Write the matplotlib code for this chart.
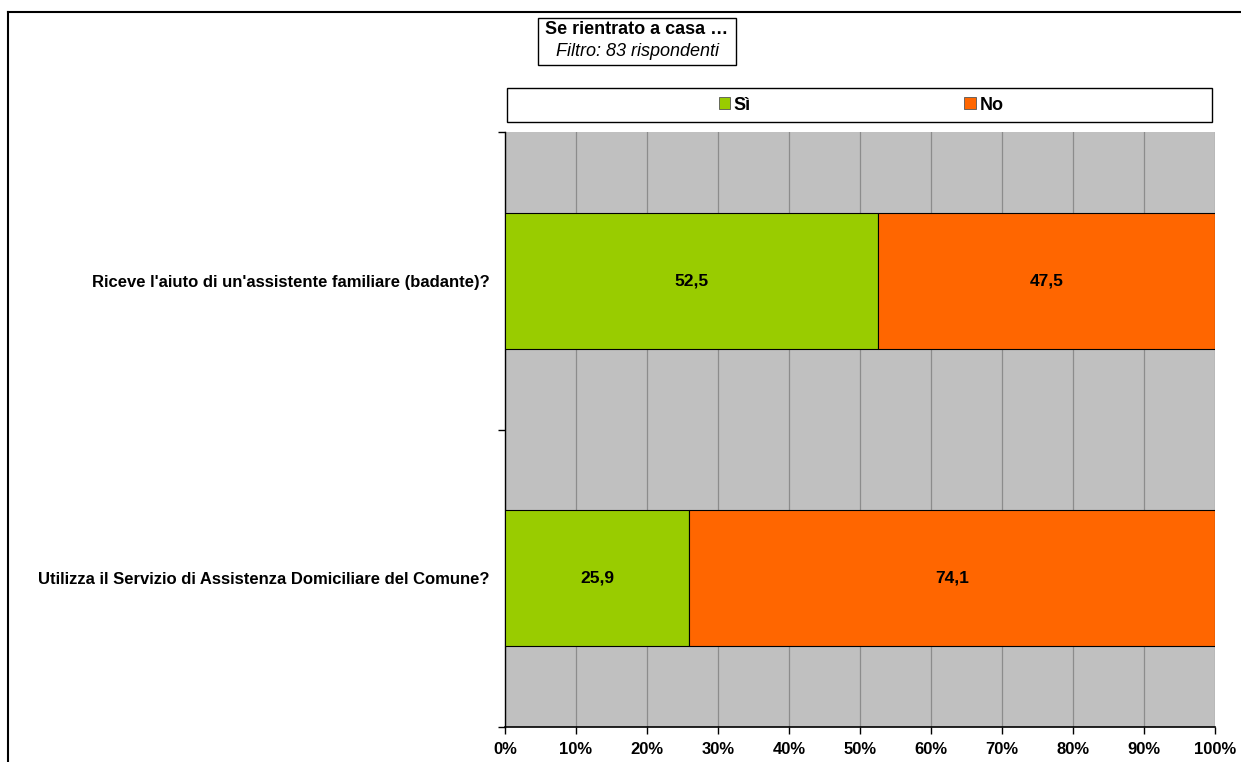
import numpy as np
import matplotlib
matplotlib.use("Agg")
import matplotlib.pyplot as plt
from matplotlib.patches import Rectangle, Patch
from matplotlib.lines import Line2D

plt.rcParams['font.family'] = ['Liberation Sans', 'DejaVu Sans']

# survey answers, percentages
questions = ["Utilizza il Servizio di Assistenza Domiciliare del Comune?",
             "Riceve l'aiuto di un'assistente familiare (badante)?"]
si_values = [25.9, 52.5]
no_values = [74.1, 47.5]
series_names = ["Sì", "No"]
x_ticks = [0, 10, 20, 30, 40, 50, 60, 70, 80, 90, 100]

GREEN = "#99CC00"
ORANGE = "#FF6600"

W, H = 1241, 762
fig = plt.figure(figsize=(W / 100, H / 100), dpi=100)
fig.patch.set_facecolor("white")

# outer chart frame (left and top edges only visible)
fig.add_artist(Line2D([8 / W, 8 / W], [0, 1 - 12 / H], color="black", lw=1.5, transform=fig.transFigure))
fig.add_artist(Line2D([8 / W, 1], [1 - 12 / H, 1 - 12 / H], color="black", lw=1.5, transform=fig.transFigure))

ax = fig.add_axes([505 / W, 1 - 727 / H, 710 / W, 595 / H])
ax.set_facecolor("#C0C0C0")

y = np.arange(len(questions))
bh = 0.457
ax.barh(y, si_values, height=bh, color=GREEN, edgecolor="black", linewidth=0.8, zorder=3)
ax.barh(y, no_values, left=si_values, height=bh, color=ORANGE, edgecolor="black", linewidth=0.8, zorder=3)

for i in range(len(questions)):
    ax.text(si_values[i] / 2, y[i], f"{si_values[i]:.1f}".replace(".", ","),
            ha="center", va="center", fontsize=12.5, fontweight="bold", zorder=4)
    ax.text(si_values[i] + no_values[i] / 2, y[i], f"{no_values[i]:.1f}".replace(".", ","),
            ha="center", va="center", fontsize=12.5, fontweight="bold", zorder=4)

ax.set_xlim(0, 100)
ax.set_ylim(-0.5, len(questions) - 0.5)
ax.set_xticks(x_ticks)
ax.set_xticklabels([f"{t}%" for t in x_ticks], fontsize=12, fontweight="bold")
ax.set_yticks(y)
ax.set_yticklabels(questions, fontsize=12, fontweight="bold")
ax.set_yticks(np.arange(-0.5, len(questions)), minor=True)
ax.tick_params(axis="y", which="major", length=0, pad=11)
ax.tick_params(axis="y", which="minor", length=5, width=1)
ax.tick_params(axis="x", length=5, width=1, pad=6)
ax.xaxis.grid(True, color="#8C8C8C", lw=0.9, zorder=1)
ax.set_axisbelow(True)
for s in ["top", "right"]:
    ax.spines[s].set_visible(False)
ax.spines["left"].set_linewidth(1)
ax.spines["bottom"].set_linewidth(1.2)

# legend box
fig.add_artist(Rectangle((507 / W, 1 - 122 / H), 705 / W, 34 / H, transform=fig.transFigure,
                         facecolor="white", edgecolor="black", lw=1))
handles = [Patch(facecolor=GREEN, edgecolor="#555555", lw=0.6),
           Patch(facecolor=ORANGE, edgecolor="#555555", lw=0.6)]
fig.legend(handles, series_names, loc="center", bbox_to_anchor=(861 / W, 1 - 105 / H),
           ncol=2, frameon=False, prop={"weight": "bold", "size": 13},
           handlelength=0.65, handleheight=0.65, handletextpad=0.2, columnspacing=11.8)

# title box
fig.add_artist(Rectangle((538 / W, 1 - 65 / H), 198 / W, 47 / H, transform=fig.transFigure,
                         facecolor="white", edgecolor="black", lw=1))
fig.text(637 / W, 1 - 30 / H, "Se rientrato a casa …", ha="center", va="center",
         fontsize=13, fontweight="bold")
fig.text(637 / W, 1 - 52 / H, "Filtro: 83 rispondenti", ha="center", va="center",
         fontsize=13, style="italic")

fig.savefig("out.png", dpi=100)
